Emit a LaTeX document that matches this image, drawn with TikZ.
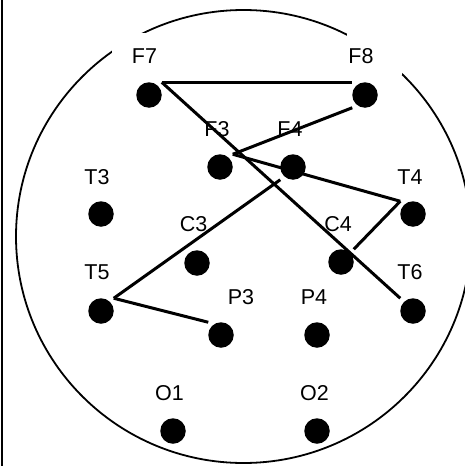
\documentclass[tikz,border=0pt]{standalone}
\usepackage{fontspec}
\setmainfont{Liberation Sans}
\begin{document}
\begin{tikzpicture}[x=1pt,y=-1pt,
  dot/.style={shape=rectangle,draw=none,minimum size=25.5pt,inner sep=0pt,outer sep=0pt,
    path picture={\fill[black] (path picture bounding box.center) circle (12.75pt);}},
  lbl/.style={inner sep=0pt,outer sep=0pt,font=\fontsize{21.5}{25}\selectfont},
  wire/.style={line width=3pt,black},
  rim/.style={line width=1.8pt,black},
  mask/.style={fill=white,draw=none}]
\useasboundingbox (0,0) rectangle (465,466);
% frame line at left
\draw[line width=2pt] (2,0) -- (2,466);
% head outline
\draw[rim] (243.5,236.5) ellipse [x radius=227.5pt, y radius=226.5pt];
% white boxes behind the F7 and F8 labels
\fill[mask] (112,33) rectangle (167,75);
\fill[mask] (347,33) rectangle (402,75);
% labels
\node[lbl] (lF7) at (144.5,56) {F7};
\node[lbl] (lF8) at (361,56) {F8};
\node[lbl] (lF3) at (217,129.5) {F3};
\node[lbl] (lF4) at (290,129.5) {F4};
\node[lbl] (lT3) at (97,177) {T3};
\node[lbl] (lT4) at (410,177) {T4};
\node[lbl] (lC3) at (193.5,224.5) {C3};
\node[lbl] (lC4) at (338,224.5) {C4};
\node[lbl] (lT5) at (97,272.5) {T5};
\node[lbl] (lT6) at (410,272.5) {T6};
\node[lbl] (lP3) at (241,297.5) {P3};
\node[lbl] (lP4) at (314,297.5) {P4};
\node[lbl] (lO1) at (169.5,393.5) {O1};
\node[lbl] (lO2) at (314.5,393.5) {O2};
% electrodes
\node[dot] (F7) at (149,95) {};
\node[dot] (F8) at (365,95) {};
\node[dot] (F3) at (220,167) {};
\node[dot] (F4) at (293,167) {};
\node[dot] (T3) at (101,214) {};
\node[dot] (T4) at (413,214) {};
\node[dot] (C3) at (197,263) {};
\node[dot] (C4) at (341,262) {};
\node[dot] (T5) at (101,311) {};
\node[dot] (T6) at (413,311) {};
\node[dot] (P3) at (221,335) {};
\node[dot] (P4) at (317,335) {};
\node[dot] (O1) at (173,431) {};
\node[dot] (O2) at (317,431) {};
% connections
\draw[wire] (F7.north east) -- (F8.north west);
\draw[wire] (F7.north east) -- (T6.north west);
\draw[wire] (F8.south west) -- (F3.north east);
\draw[wire] (F3.north east) -- (T4.north west);
\draw[wire] (T4.north west) -- (C4.north east);
\draw[wire] (F4.south west) -- (T5.north east);
\draw[wire] (T5.north east) -- (P3.north west);
\end{tikzpicture}
\end{document}
